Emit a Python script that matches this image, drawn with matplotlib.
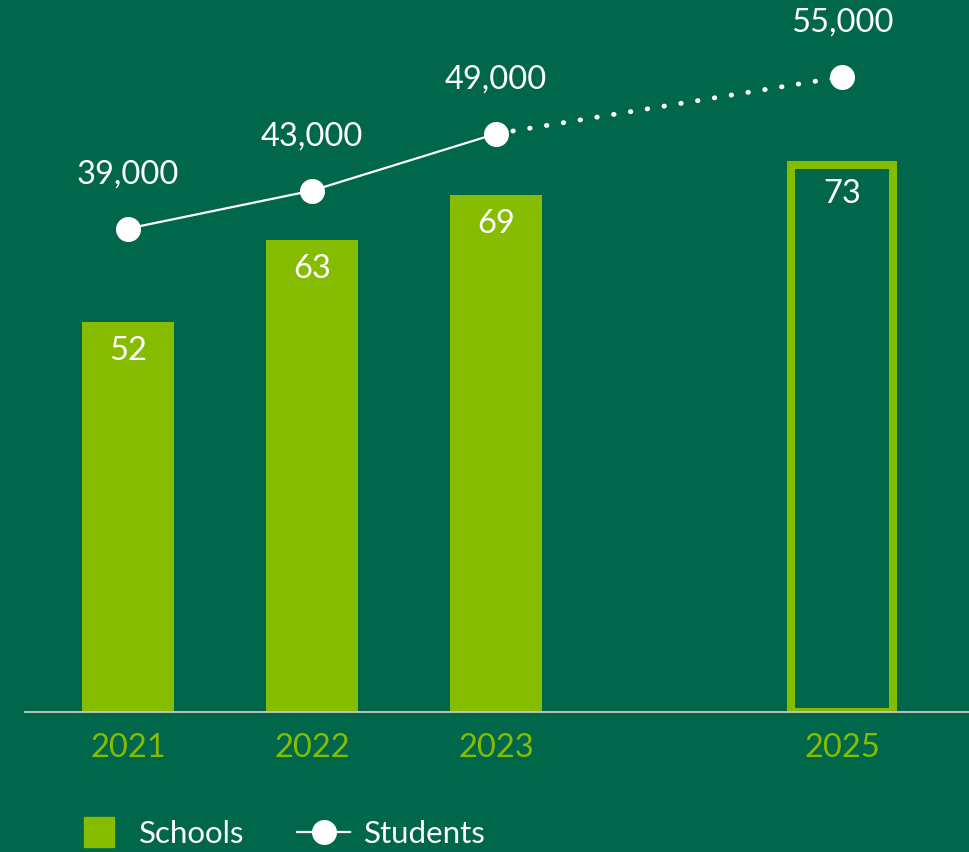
import matplotlib.pyplot as plt
from matplotlib.lines import Line2D

plt.rcParams['font.family'] = ['Lato', 'DejaVu Sans']

years = ['2021', '2022', '2023', '2025']
schools = [52, 63, 69, 73]
students = [39000, 43000, 49000, 55000]
projected = [False, False, False, True]

bg = '#00674A'
lime = '#86BC00'
fs = 23.5

fig = plt.figure(figsize=(9.69, 8.52), dpi=100, facecolor=bg)
ax = fig.add_axes([25 / 969, 140 / 852, 944 / 969, 692 / 852])
ax.set_facecolor(bg)

xpos = [0, 1, 2, 3.88]

for x, v, proj in zip(xpos, schools, projected):
    if proj:
        ax.bar(x, v, width=0.55, facecolor='none', edgecolor=lime, linewidth=5.8)
    else:
        ax.bar(x, v, width=0.5, color=lime)
    ax.annotate(str(v), (x, v), xytext=(0, -21), textcoords='offset points',
                ha='center', va='center', color='white', fontsize=fs)

ax.set_xlim(-0.56, 4.57)
ax.set_ylim(0, 92.3)
ax.set_xticks(xpos)
ax.set_xticklabels(years)
ax.tick_params(axis='x', length=0, pad=15, labelsize=fs, labelcolor=lime)
ax.set_yticks([])
for s in ['top', 'left', 'right']:
    ax.spines[s].set_visible(False)
ax.spines['bottom'].set_color('#C8C8C8')
ax.spines['bottom'].set_linewidth(1.3)

ax2 = ax.twinx()
ax2.set_ylim(-12000, 61000)
ax2.set_yticks([])
for s in ax2.spines.values():
    s.set_visible(False)

ax2.plot(xpos[:3], students[:3], color='white', lw=1.6, zorder=3)
ax2.plot(xpos[2:], students[2:], color='white', lw=3.5,
         linestyle=(0, (0.1, 3.4)), dash_capstyle='round', zorder=3)
ax2.plot(xpos, students, 'o', color='white', markersize=17, zorder=4)
for x, v in zip(xpos, students):
    ax2.annotate(f'{v:,}', (x, v), xytext=(0, 39), textcoords='offset points',
                 ha='center', va='center', color='white', fontsize=fs)

handles = [
    Line2D([], [], marker='s', linestyle='none', color=lime, markersize=22),
    Line2D([], [], marker='o', color='white', lw=1.6, markersize=17),
]
fig.legend(handles, ['Schools', 'Students'], loc='center left',
           bbox_to_anchor=(72 / 969, 1 - 834 / 852), frameon=False, ncol=2,
           fontsize=22.5, labelcolor='white', handlelength=1.7,
           handletextpad=0.45, columnspacing=1.68, borderpad=0, borderaxespad=0)

fig.savefig('out.png', dpi=100, facecolor=bg)
